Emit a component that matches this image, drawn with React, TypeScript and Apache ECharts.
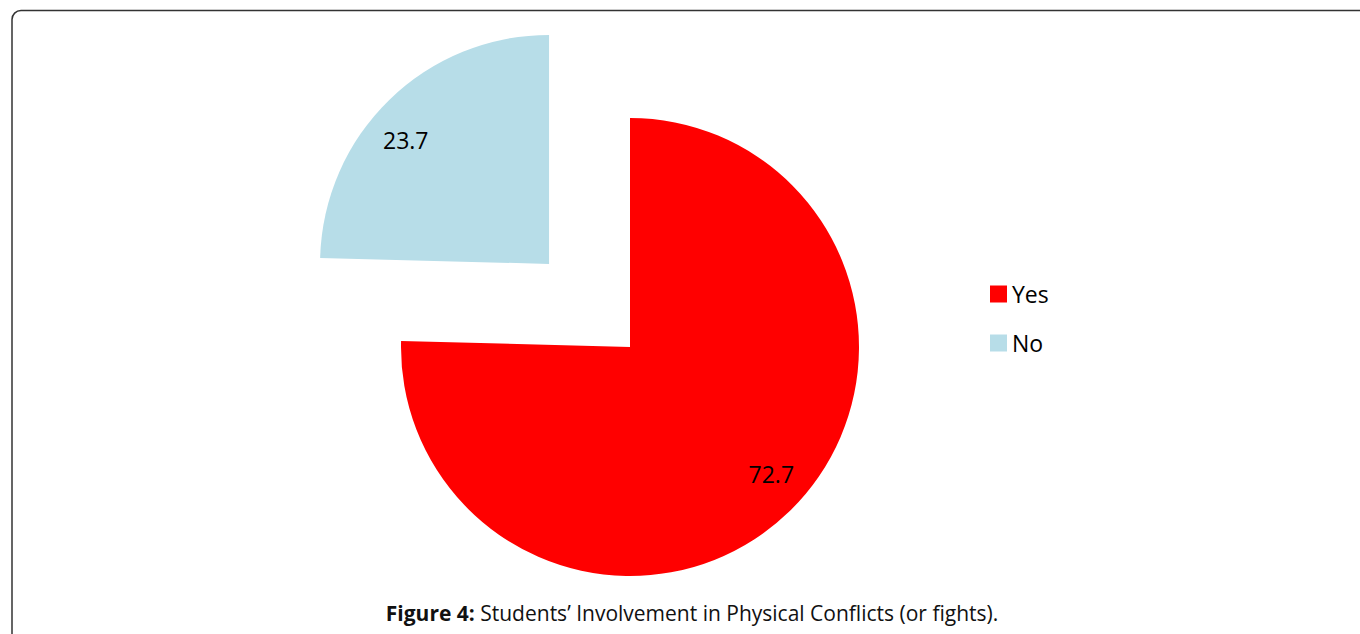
import React, { useEffect, useRef } from "react";
import * as echarts from "echarts";

const categories = ["Yes", "No"];
const values = [72.7, 23.7];
const colors = ["#ff0000", "#b7dde8"];
const explodedCategory = "No";
const captionBold = "Figure 4:";
const captionText = " Students’ Involvement in Physical Conflicts (or fights).";

export default function App() {
  const ref = useRef<HTMLDivElement>(null);
  useEffect(() => {
    if (!ref.current) return;
    const chart = echarts.init(ref.current, null, { renderer: "svg" });
    const center = [630, 347];
    const R = 229;
    const labelOffsets: Record<string, number[]> = { Yes: [8, -10], No: [-10, 13] };
    const data = categories.map((c, i) => ({
      name: c,
      value: values[i],
      selected: c === explodedCategory,
      itemStyle: { color: colors[i] },
    }));
    const labelData = categories.map((c, i) => ({
      name: c,
      value: values[i],
      selected: c === explodedCategory,
      label: { offset: labelOffsets[c] },
      select: { label: { offset: labelOffsets[c] } },
    }));
    chart.setOption({
      animation: false,
      legend: {
        orient: "vertical",
        left: 985,
        top: 277,
        itemWidth: 17,
        itemHeight: 17,
        itemGap: 25,
        icon: "rect",
        selectedMode: false,
        textStyle: { fontFamily: "Open Sans", fontSize: 23, color: "#000", lineHeight: 24, padding: [0, 0, 0, 0] },
        data: categories.map((c, i) => ({ name: c, itemStyle: { color: colors[i] } })),
      },
      graphic: [
        {
          type: "rect",
          shape: { x: 12, y: 10.5, width: 1400, height: 700, r: 9 },
          style: { fill: "none", stroke: "#333", lineWidth: 1.5 },
          silent: true,
        },
        {
          type: "text",
          x: 692,
          y: 613,
          style: {
            text: "{b|" + captionBold + "}" + captionText,
            align: "center",
            verticalAlign: "middle",
            fontFamily: "Open Sans",
            fontSize: 21,
            fill: "#111",
            rich: { b: { fontWeight: "bold", fontFamily: "Open Sans", fontSize: 21, fill: "#111" } },
          },
        },
      ],
      series: [
        {
          type: "pie",
          center,
          radius: R,
          startAngle: 90,
          clockwise: true,
          selectedMode: "single",
          selectedOffset: 116,
          label: { show: false },
          labelLine: { show: false },
          emphasis: { disabled: true },
          itemStyle: { borderWidth: 0 },
          data,
        },
        {
          type: "pie",
          center,
          radius: [147, R],
          startAngle: 90,
          clockwise: true,
          selectedMode: "single",
          selectedOffset: 116,
          silent: true,
          itemStyle: { color: "transparent", borderWidth: 0 },
          label: {
            show: true,
            position: "inside",
            formatter: "{c}",
            fontFamily: "Open Sans",
            fontSize: 23,
            color: "#000",
          },
          labelLine: { show: false },
          emphasis: { disabled: true },
          data: labelData,
        },
      ],
    });
    return () => chart.dispose();
  }, []);
  return (
    <div
      ref={ref}
      style={{ position: "fixed", left: 0, top: 0, width: 1360, height: 634, background: "#fff" }}
    />
  );
}
